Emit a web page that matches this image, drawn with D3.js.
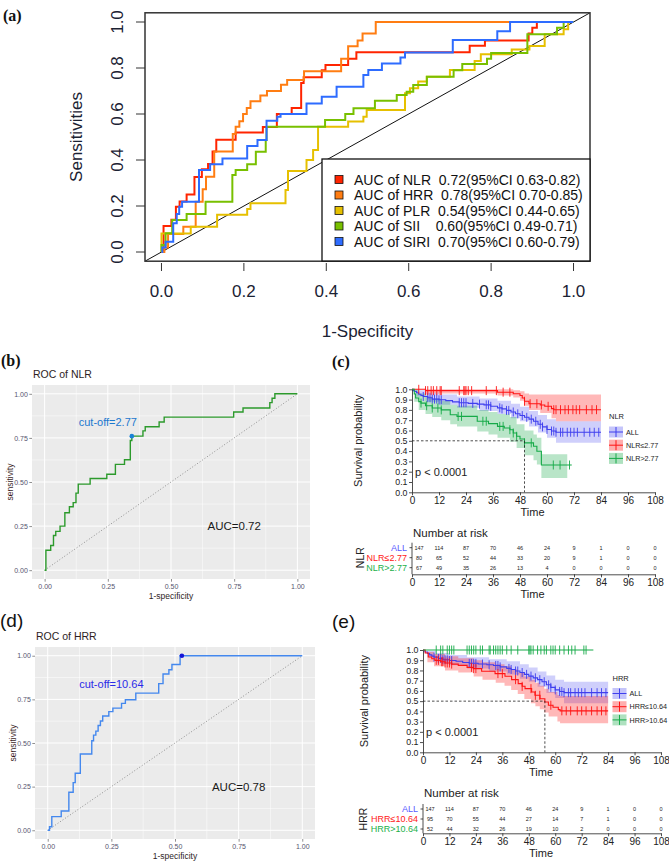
<!DOCTYPE html>
<html>
<head>
<meta charset="utf-8">
<script src="https://cdn.jsdelivr.net/npm/d3@7"></script>
<style>
body{margin:0;background:#fff}
svg{display:block;font-family:"Liberation Sans",Arial,sans-serif}
.pre{white-space:pre}
</style>
</head>
<body>
<svg id="fig" width="669" height="867"></svg>
<script>
// ---------- (a) ROC curves, [1-specificity, sensitivity] ----------
const nlrRoc = [[0,0],[0.005,0.113],[0.024,0.14],[0.035,0.197],[0.044,0.22],[0.061,0.25],[0.08,0.326],[0.098,0.36],[0.113,0.383],[0.124,0.437],[0.133,0.488],[0.18,0.52],[0.246,0.544],[0.28,0.6],[0.316,0.626],[0.339,0.735],[0.345,0.76],[0.389,0.79],[0.398,0.813],[0.453,0.84],[0.473,0.868],[0.748,0.897],[0.785,0.92],[0.891,0.95],[0.9,0.975],[0.911,1],[1,1]]
const hrrRoc = [[0,0],[0.007,0.02],[0.016,0.078],[0.053,0.11],[0.083,0.218],[0.1,0.273],[0.108,0.327],[0.128,0.437],[0.173,0.513],[0.18,0.545],[0.189,0.568],[0.198,0.6],[0.207,0.626],[0.216,0.655],[0.24,0.68],[0.256,0.70],[0.29,0.727],[0.305,0.748],[0.346,0.786],[0.436,0.84],[0.453,0.895],[0.476,0.92],[0.488,0.95],[0.52,1],[1,1]]
const plrRoc = [[0,0],[0,0.08],[0.071,0.11],[0.135,0.162],[0.208,0.187],[0.216,0.212],[0.301,0.27],[0.307,0.352],[0.352,0.4],[0.368,0.443],[0.38,0.545],[0.453,0.567],[0.49,0.588],[0.498,0.617],[0.591,0.69],[0.603,0.712],[0.623,0.741],[0.644,0.762],[0.7,0.791],[0.76,0.83],[0.775,0.86],[0.85,0.88],[0.893,0.896],[0.93,0.947],[0.976,0.968],[0.987,1],[1,1]]
const siiRoc = [[0,0],[0,0.03],[0.01,0.081],[0.026,0.139],[0.061,0.165],[0.107,0.219],[0.172,0.335],[0.18,0.357],[0.208,0.381],[0.229,0.436],[0.253,0.487],[0.255,0.545],[0.397,0.574],[0.446,0.6],[0.466,0.625],[0.518,0.658],[0.571,0.683],[0.595,0.697],[0.611,0.726],[0.644,0.762],[0.709,0.79],[0.73,0.817],[0.79,0.84],[0.8,0.865],[0.888,0.947],[0.96,0.975],[0.976,1],[1,1]]
const siriRoc = [[0,0],[0.002,0.02],[0.01,0.045],[0.0285,0.125],[0.037,0.165],[0.043,0.197],[0.05,0.219],[0.091,0.357],[0.118,0.381],[0.148,0.407],[0.208,0.461],[0.233,0.487],[0.255,0.571],[0.281,0.588],[0.289,0.6],[0.352,0.646],[0.389,0.675],[0.425,0.719],[0.49,0.77],[0.502,0.791],[0.535,0.82],[0.58,0.846],[0.591,0.867],[0.707,0.922],[0.815,0.96],[0.846,1],[1,1]]
const rocSeries = [nlrRoc, hrrRoc, plrRoc, siiRoc, siriRoc]
const rocColors = ['#ff2400', '#ff7d12', '#e6c000', '#78c000', '#2e6cff']
const rocLabels = ['AUC of NLR  0.72(95%CI 0.63-0.82)', 'AUC of HRR  0.78(95%CI 0.70-0.85)', 'AUC of PLR  0.54(95%CI 0.44-0.65)', 'AUC of SII    0.60(95%CI 0.49-0.71)', 'AUC of SIRI  0.70(95%CI 0.60-0.79)']
const rocTicks = [0, 0.2, 0.4, 0.6, 0.8, 1]

// ---------- (b)/(d) cut-off points ----------
const nlrCut = [0.345, 0.76]
const hrrCut = [0.527, 1]
const ggTicks = [0, 0.25, 0.5, 0.75, 1]
const ggMinor = [0.125, 0.375, 0.625, 0.875]

// ---------- (c)/(e) Kaplan-Meier, [month, survival] ----------
const kmTicks = d3.range(0, 109, 12)
const allKm = [[0,1],[0.5,0.99],[1,0.98],[2,0.966],[3,0.952],[4,0.94],[5,0.93],[7,0.918],[9,0.905],[12,0.898],[15,0.89],[18,0.878],[21,0.87],[25,0.863],[29,0.856],[32,0.849],[35,0.835],[38,0.82],[40,0.81],[42,0.795],[44,0.78],[46,0.762],[48,0.745],[50,0.728],[52,0.71],[54,0.69],[56,0.66],[58,0.635],[60,0.61],[62,0.595],[64,0.583],[84,0.583]]
const allBand = [[0,1,1],[2,0.93,0.99],[6,0.88,0.97],[12,0.85,0.95],[20,0.82,0.93],[30,0.79,0.91],[38,0.76,0.89],[44,0.72,0.86],[48,0.69,0.83],[52,0.64,0.79],[56,0.58,0.75],[60,0.53,0.71],[64,0.48,0.69],[84,0.48,0.69]]
const allCensor = [5,7,8,9,10,11,12,13,21,22,23,24,27,30,33,34,35,39,40,42,43,45,47,49,51,53,55,57,58,60,62,63,64,66,67,69,70.5,72,73.5,76.5,79,81,83]

const nlrLowKm = [[0,1],[6,0.987],[38,0.972],[45,0.957],[48,0.94],[49,0.915],[50,0.884],[52,0.86],[57,0.848],[59,0.835],[62,0.812],[63,0.802],[84,0.802]]
const nlrLowBand = [[0,1,1],[6,0.96,1],[38,0.94,1],[45,0.92,0.99],[48,0.89,0.98],[50,0.84,0.96],[52,0.8,0.95],[57,0.77,0.95],[62,0.72,0.95],[64,0.69,0.95],[84,0.69,0.95]]
const nlrLowCensor = [3,6,7,8.5,9.5,11,12.5,13,21,23,23.5,24,25,26.5,33,37.5,40.5,43.5,50,52.5,55.5,57.5,60.5,63,64,66,68,69.5,71.5,73,74.5,77.5,80,82]

const nlrHighKm = [[0,1],[1,0.955],[1.6,0.915],[3,0.88],[4,0.866],[6,0.84],[9,0.818],[13,0.8],[17,0.753],[20,0.737],[29,0.69],[34,0.667],[38,0.64],[41,0.624],[43.5,0.608],[45,0.576],[46.5,0.544],[48,0.518],[50,0.48],[54,0.447],[55.5,0.398],[57.5,0.265],[71,0.265]]
const nlrHighBand = [[0,1,1],[1,0.88,1],[3,0.8,0.96],[6,0.76,0.93],[9,0.73,0.91],[13,0.7,0.89],[17,0.66,0.85],[20,0.64,0.84],[29,0.59,0.8],[34,0.56,0.78],[38,0.53,0.76],[43.5,0.49,0.73],[46.5,0.43,0.66],[50,0.36,0.6],[54,0.31,0.56],[55.5,0.27,0.53],[57.5,0.14,0.37],[69,0.14,0.37]]
const nlrHighCensor = [4,6.5,9,11.5,13,20.5,22,31.5,33,39,40.5,43.5,45,46.5,50,53,62.8,65.8,70]

const hrrLowKm = [[0,1],[1,0.97],[2.4,0.931],[4,0.915],[5.4,0.899],[8,0.885],[10,0.873],[13,0.862],[16,0.85],[20,0.83],[22.8,0.818],[26.6,0.792],[32.7,0.769],[37.2,0.743],[40.2,0.71],[43.2,0.671],[45,0.645],[46.3,0.622],[49.3,0.59],[50.8,0.557],[53.1,0.524],[55.3,0.492],[56.9,0.46],[59,0.44],[61.4,0.417],[62.2,0.405],[84,0.405]]
const hrrLowBand = [[0,1,1],[2,0.88,0.98],[5,0.84,0.96],[10,0.8,0.94],[16,0.78,0.92],[23,0.74,0.9],[27,0.71,0.88],[33,0.68,0.86],[37,0.65,0.84],[40,0.61,0.81],[43,0.57,0.78],[46,0.52,0.74],[49,0.48,0.71],[51,0.45,0.68],[53,0.42,0.65],[55,0.39,0.62],[57,0.35,0.59],[61,0.3,0.56],[62.2,0.285,0.55],[84,0.285,0.55]]
const hrrLowCensor = [6,7,8.5,9,10,11,12,13,22,23,24,34,36,42,45,49,51,53,58,63,65,67,70,72,74,76.5,79,81,83]

const hrrHighKm = [[0,1],[77.3,1]]
const hrrHighCensor = [6,8,9,11,12,13,14,20,21,22,23,24,26,27,30,30.5,32,33,34,35,36,38,40,43,48,48.5,49,50,52,53.5,55,56,58,59,60,62,64,66,67.5,69,73,74]

// number at risk at 0,12,...,108
const riskAll = [147,114,87,70,46,24,9,1,0,0]
const riskNlrLow = [80,65,52,44,33,20,9,1,0,0]
const riskNlrHigh = [67,49,35,26,13,4,0,0,0,0]
const riskHrrLow = [95,70,55,44,27,14,7,1,0,0]
const riskHrrHigh = [52,44,32,26,19,10,2,0,0,0]

const blueKm = '#3f3fee', redKm = '#ff1414', greenKm = '#16aa48'

const svg = d3.select('#fig')
svg.append('rect').attr('width', 669).attr('height', 867).attr('fill', '#fff')

// ===================== panel (a) =====================
const ax = d3.scaleLinear().domain([-0.04, 1.04]).range([145, 590])
const ay = d3.scaleLinear().domain([-0.04, 1.04]).range([261.2, 12.8])
const ink = '#1b2233'

svg.append('clipPath').attr('id', 'clipA').append('rect')
    .attr('x', 145).attr('y', 12.8).attr('width', 445).attr('height', 248.4)

const ga = svg.append('g')
ga.append('line')
    .attr('x1', ax(-0.04)).attr('y1', ay(-0.04)).attr('x2', ax(1.04)).attr('y2', ay(1.04))
    .attr('stroke', '#111').attr('stroke-width', 1)
    .attr('clip-path', 'url(#clipA)')

const rocLine = d3.line().x(d => ax(d[0])).y(d => ay(d[1])).curve(d3.curveStepAfter)
rocSeries.forEach(function(s, i){
    ga.append('path')
        .attr('d', rocLine(s))
        .attr('fill', 'none')
        .attr('stroke', rocColors[i])
        .attr('stroke-width', 2)
        .attr('clip-path', 'url(#clipA)')
})

ga.append('rect').attr('x', 145).attr('y', 12.8).attr('width', 445).attr('height', 248.4)
    .attr('fill', 'none').attr('stroke', '#333').attr('stroke-width', 1.5)

// y ticks (rotated labels)
ga.selectAll('.ytk').data(rocTicks).enter().append('line')
    .attr('x1', 136).attr('x2', 145)
    .attr('y1', d => ay(d)).attr('y2', d => ay(d))
    .attr('stroke', '#333').attr('stroke-width', 1)
ga.selectAll('.ylb').data(rocTicks).enter().append('text')
    .attr('transform', d => 'translate(123,' + ay(d) + ') rotate(-90)')
    .attr('text-anchor', 'middle')
    .attr('font-size', 17).attr('fill', ink)
    .text(d => d3.format('.1f')(d))
// x ticks
ga.selectAll('.xtk').data(rocTicks).enter().append('line')
    .attr('x1', d => ax(d)).attr('x2', d => ax(d))
    .attr('y1', 263).attr('y2', 271)
    .attr('stroke', '#333').attr('stroke-width', 1)
ga.selectAll('.xlb').data(rocTicks).enter().append('text')
    .attr('x', d => ax(d)).attr('y', 297)
    .attr('text-anchor', 'middle')
    .attr('font-size', 17).attr('fill', ink)
    .text(d => d3.format('.1f')(d))
ga.append('text').attr('x', 367.5).attr('y', 337).attr('text-anchor', 'middle')
    .attr('font-size', 17).attr('fill', ink).text('1-Specificity')
ga.append('text').attr('transform', 'translate(82,137) rotate(-90)').attr('text-anchor', 'middle')
    .attr('font-size', 17).attr('fill', ink).text('Sensitivities')

// legend
ga.append('rect').attr('x', 322).attr('y', 159).attr('width', 268).attr('height', 102)
    .attr('fill', '#fff').attr('stroke', '#111').attr('stroke-width', 1.3)
rocLabels.forEach(function(lb, i){
    const yy = 179.5 + i * 15.5
    ga.append('rect').attr('x', 335).attr('y', yy - 4).attr('width', 8).attr('height', 8)
        .attr('fill', rocColors[i]).attr('stroke', '#111').attr('stroke-width', 0.8)
    ga.append('text').attr('class', 'pre').attr('x', 354).attr('y', yy + 5)
        .attr('font-size', 14).attr('fill', '#111').text(lb)
})

// panel letters
function letter(t, x, y, serif){
    svg.append('text').attr('x', x).attr('y', y).text(t)
        .attr('font-family', serif ? '"Liberation Serif",serif' : '"Liberation Sans",sans-serif')
        .attr('font-weight', serif ? 'bold' : 'normal')
        .attr('font-size', serif ? 16 : 19).attr('fill', '#111')
}
letter('(a)', 3, 21, true)
letter('(b)', 1, 366, true)
letter('(c)', 332, 367, true)
letter('(d)', 0, 627, false)
letter('(e)', 332, 628, false)

// ===================== panels (b) & (d) =====================
function rocPanel(p){
    const g = svg.append('g')
    const x = d3.scaleLinear().domain([-0.05, 1.05]).range([p.left, p.right])
    const y = d3.scaleLinear().domain([-0.05, 1.05]).range([p.bottom, p.top])
    g.append('rect').attr('x', p.left).attr('y', p.top)
        .attr('width', p.right - p.left).attr('height', p.bottom - p.top).attr('fill', '#ebebeb')
    g.selectAll('.vmi').data(ggMinor).enter().append('line')
        .attr('x1', d => x(d)).attr('x2', d => x(d)).attr('y1', p.top).attr('y2', p.bottom)
        .attr('stroke', '#fff').attr('stroke-width', 0.5)
    g.selectAll('.hmi').data(ggMinor).enter().append('line')
        .attr('y1', d => y(d)).attr('y2', d => y(d)).attr('x1', p.left).attr('x2', p.right)
        .attr('stroke', '#fff').attr('stroke-width', 0.5)
    g.selectAll('.vma').data(ggTicks).enter().append('line')
        .attr('x1', d => x(d)).attr('x2', d => x(d)).attr('y1', p.top).attr('y2', p.bottom)
        .attr('stroke', '#fff').attr('stroke-width', 1)
    g.selectAll('.hma').data(ggTicks).enter().append('line')
        .attr('y1', d => y(d)).attr('y2', d => y(d)).attr('x1', p.left).attr('x2', p.right)
        .attr('stroke', '#fff').attr('stroke-width', 1)

    const xa = g.append('g').attr('transform', 'translate(0,' + p.bottom + ')')
        .call(d3.axisBottom(x).tickValues(ggTicks).tickFormat(d3.format('.2f')).tickSize(2.7).tickPadding(2))
    const ya = g.append('g').attr('transform', 'translate(' + p.left + ',0)')
        .call(d3.axisLeft(y).tickValues(ggTicks).tickFormat(d3.format('.2f')).tickSize(2.7).tickPadding(1.5))
    ;[xa, ya].forEach(function(a){
        a.select('.domain').remove()
        a.selectAll('line').attr('stroke', '#444').attr('stroke-width', 0.6)
        a.selectAll('text').attr('font-size', 7).attr('fill', '#55556e')
            .attr('font-family', '"Liberation Sans",sans-serif')
    })

    g.append('line').attr('x1', x(0)).attr('y1', y(0)).attr('x2', x(1)).attr('y2', y(1))
        .attr('stroke', '#777').attr('stroke-width', 0.8).attr('stroke-dasharray', '1,2')
    g.append('path')
        .attr('d', d3.line().x(d => x(d[0])).y(d => y(d[1])).curve(d3.curveStepAfter)(p.data))
        .attr('fill', 'none').attr('stroke', p.color).attr('stroke-width', 1.4)
    g.append('circle').attr('cx', x(p.cut[0])).attr('cy', y(p.cut[1])).attr('r', 2.3).attr('fill', p.ptColor)
    g.append('text').attr('x', x(0.25)).attr('y', y(0.84)).attr('dy', '0.35em')
        .attr('text-anchor', 'middle').attr('font-size', 11).attr('fill', p.cutColor).text(p.cutText)
    g.append('text').attr('x', x(0.75)).attr('y', y(0.25)).attr('dy', '0.35em')
        .attr('text-anchor', 'middle').attr('font-size', 11.5).attr('fill', '#1a1a1a').text(p.auc)

    g.append('text').attr('x', p.left + 1).attr('y', p.top - 7).attr('font-size', 10.5)
        .attr('fill', '#2e1e1e').text(p.title)
    g.append('text').attr('x', (p.left + p.right) / 2).attr('y', p.bottom + 20)
        .attr('text-anchor', 'middle').attr('font-size', 8.5).attr('fill', '#2e1e1e').text('1-specificity')
    g.append('text').attr('transform', 'translate(' + (p.left - 19) + ',' + ((p.top + p.bottom) / 2) + ') rotate(-90)')
        .attr('text-anchor', 'middle').attr('font-size', 8.5).attr('fill', '#3a1e1e').text('sensitivity')
}

rocPanel({left: 32, right: 310, top: 385, bottom: 579, data: nlrRoc, color: '#2c9a2c',
    cut: nlrCut, ptColor: '#1b82d6', cutColor: '#1b78cf', cutText: 'cut-off=2.77',
    auc: 'AUC=0.72', title: 'ROC of NLR'})
rocPanel({left: 35, right: 315, top: 647, bottom: 839, data: hrrRoc, color: '#4488ee',
    cut: hrrCut, ptColor: '#1414d8', cutColor: '#2a2ae8', cutText: 'cut-off=10.64',
    auc: 'AUC=0.78', title: 'ROC of HRR'})

// ===================== panels (c) & (e) =====================
function survAt(data, t){
    const i = d3.bisector(d => d[0]).right(data, t) - 1
    return data[Math.max(0, i)][1]
}

function kmPanel(p){
    const g = svg.append('g')
    const x = d3.scaleLinear().domain([0, 108]).range([p.x0, p.x1])
    const y = d3.scaleLinear().domain([0, 1]).range([p.yBot, p.yTop])
    const line = d3.line().x(d => x(d[0])).y(d => y(d[1])).curve(d3.curveStepAfter)
    const area = d3.area().x(d => x(d[0])).y0(d => y(d[1])).y1(d => y(d[2])).curve(d3.curveStepAfter)

    p.groups.forEach(function(s){
        if (s.band) g.append('path').attr('d', area(s.band)).attr('fill', s.color).attr('fill-opacity', s.alpha)
    })
    p.groups.forEach(function(s){
        g.append('path').attr('d', line(s.km)).attr('fill', 'none').attr('stroke', s.color).attr('stroke-width', 1.1)
        g.selectAll(null).data(s.censor).enter().append('line')
            .attr('x1', d => x(d)).attr('x2', d => x(d))
            .attr('y1', d => y(survAt(s.km, d)) - 4.5).attr('y2', d => y(survAt(s.km, d)) + 4.5)
            .attr('stroke', s.color).attr('stroke-width', 0.9)
    })

    // median line
    const med = p.groups[p.medianOf].km.find(d => d[1] <= 0.5)[0]
    g.append('path')
        .attr('d', 'M' + x(0) + ',' + y(0.5) + 'H' + x(med) + 'V' + y(0))
        .attr('fill', 'none').attr('stroke', '#222').attr('stroke-width', 0.8).attr('stroke-dasharray', '2.5,2')

    // axes
    const xa = g.append('g').attr('transform', 'translate(0,' + p.yBot + ')')
        .call(d3.axisBottom(x).tickValues(kmTicks).tickSize(3).tickSizeOuter(0).tickPadding(1.5))
    const ya = g.append('g').attr('transform', 'translate(' + p.x0 + ',0)')
        .call(d3.axisLeft(y).tickValues(d3.range(0, 1.001, 0.1)).tickFormat(d3.format('.1f')).tickSize(3).tickSizeOuter(0).tickPadding(1.5))
    xa.selectAll('text').attr('font-size', 10)
    ya.selectAll('text').attr('font-size', 8.8)
    ;[xa, ya].forEach(function(a){
        a.selectAll('line, path').attr('stroke', '#222').attr('stroke-width', 0.8)
        a.selectAll('text').attr('fill', '#222').attr('font-family', '"Liberation Sans",sans-serif')
    })
    g.append('text').attr('x', (p.x0 + p.x1) / 2 - 1).attr('y', p.yBot + 23.5).attr('text-anchor', 'middle')
        .attr('font-size', 11).attr('fill', '#222').text('Time')
    g.append('text').attr('transform', 'translate(' + p.titleX + ',' + ((p.yTop + p.yBot) / 2) + ') rotate(-90)')
        .attr('text-anchor', 'middle').attr('font-size', 11).attr('fill', '#222').text('Survival probability')
    g.append('text').attr('x', p.x0 + 3).attr('y', y(0.16)).attr('font-size', 11).attr('fill', '#222').text('p < 0.0001')

    // legend
    g.append('text').attr('x', p.legX).attr('y', p.legY - 9).attr('font-size', 7.5).attr('fill', '#222').text(p.legTitle)
    p.groups.forEach(function(s, i){
        const yy = p.legY + 4 + i * 13.2
        g.append('rect').attr('x', p.legX).attr('y', yy - 5.5).attr('width', 14).attr('height', 11)
            .attr('fill', s.color).attr('fill-opacity', s.alpha + 0.05)
        g.append('line').attr('x1', p.legX).attr('x2', p.legX + 14).attr('y1', yy).attr('y2', yy)
            .attr('stroke', s.color).attr('stroke-width', 1)
        g.append('line').attr('x1', p.legX + 7).attr('x2', p.legX + 7).attr('y1', yy - 5).attr('y2', yy + 5)
            .attr('stroke', s.color).attr('stroke-width', 1)
        g.append('text').attr('x', p.legX + 17).attr('y', yy + 2.6).attr('font-size', 7.2).attr('fill', '#222').text(s.name)
    })

    // risk table
    const t = g.append('g')
    t.append('text').attr('x', p.x0 + 1).attr('y', p.riskTop).attr('font-size', 11.5).attr('fill', '#222').text('Number at risk')
    p.groups.forEach(function(s, i){
        const yy = p.riskRow0 + i * 10
        t.selectAll(null).data(s.risk).enter().append('text')
            .attr('x', (d, j) => x(kmTicks[j]) + (j === 0 ? 7 : 0)).attr('y', yy + 2)
            .attr('text-anchor', 'middle').attr('font-size', 5.5).attr('fill', '#222')
            .text(d => d)
        t.append('text').attr('x', p.x0 - 5).attr('y', yy + 3.2).attr('text-anchor', 'end')
            .attr('font-size', 9).attr('fill', s.labelColor).text(s.name)
        t.append('line').attr('x1', p.x0 - 2.5).attr('x2', p.x0).attr('y1', yy).attr('y2', yy)
            .attr('stroke', '#222').attr('stroke-width', 0.8)
    })
    const tx = t.append('g').attr('transform', 'translate(0,' + p.riskAxis + ')')
        .call(d3.axisBottom(x).tickValues(kmTicks).tickSize(3).tickSizeOuter(0).tickPadding(1.5))
    tx.selectAll('line, path').attr('stroke', '#222').attr('stroke-width', 0.8)
    tx.selectAll('text').attr('font-size', 10).attr('fill', '#222').attr('font-family', '"Liberation Sans",sans-serif')
    t.append('line').attr('x1', p.x0).attr('x2', p.x0).attr('y1', p.riskRow0 - 5).attr('y2', p.riskAxis)
        .attr('stroke', '#222').attr('stroke-width', 0.8)
    t.append('text').attr('x', (p.x0 + p.x1) / 2 - 1).attr('y', p.riskAxis + 24).attr('text-anchor', 'middle')
        .attr('font-size', 11).attr('fill', '#222').text('Time')
    t.append('text').attr('transform', 'translate(' + p.groupX + ',' + (p.riskRow0 + 10) + ') rotate(-90)')
        .attr('text-anchor', 'middle').attr('font-size', 10.5).attr('fill', '#222').text(p.legTitle)
}

kmPanel({x0: 412, x1: 655, yTop: 389.3, yBot: 492.3, medianOf: 2,
    legX: 609, legY: 428, legTitle: 'NLR', titleX: 362, groupX: 364,
    riskTop: 537, riskRow0: 547.7, riskAxis: 574.3,
    groups: [
        {name: 'ALL', km: allKm, band: allBand, censor: allCensor, color: blueKm, alpha: 0.25, risk: riskAll, labelColor: '#5a5aff'},
        {name: 'NLR\u22642.77', km: nlrLowKm, band: nlrLowBand, censor: nlrLowCensor, color: redKm, alpha: 0.3, risk: riskNlrLow, labelColor: '#ff2020'},
        {name: 'NLR>2.77', km: nlrHighKm, band: nlrHighBand, censor: nlrHighCensor, color: greenKm, alpha: 0.3, risk: riskNlrHigh, labelColor: '#1cb04a'}
    ]})

kmPanel({x0: 423, x1: 661, yTop: 650, yBot: 752.3, medianOf: 1,
    legX: 612.5, legY: 689.5, legTitle: 'HRR', titleX: 368, groupX: 367,
    riskTop: 797, riskRow0: 809, riskAxis: 833.3,
    groups: [
        {name: 'ALL', km: allKm, band: allBand, censor: allCensor, color: blueKm, alpha: 0.25, risk: riskAll, labelColor: '#5a5aff'},
        {name: 'HRR\u226410.64', km: hrrLowKm, band: hrrLowBand, censor: hrrLowCensor, color: redKm, alpha: 0.3, risk: riskHrrLow, labelColor: '#ff2020'},
        {name: 'HRR>10.64', km: hrrHighKm, band: null, censor: hrrHighCensor, color: greenKm, alpha: 0.3, risk: riskHrrHigh, labelColor: '#1cb04a'}
    ]})
</script>
</body>
</html>
